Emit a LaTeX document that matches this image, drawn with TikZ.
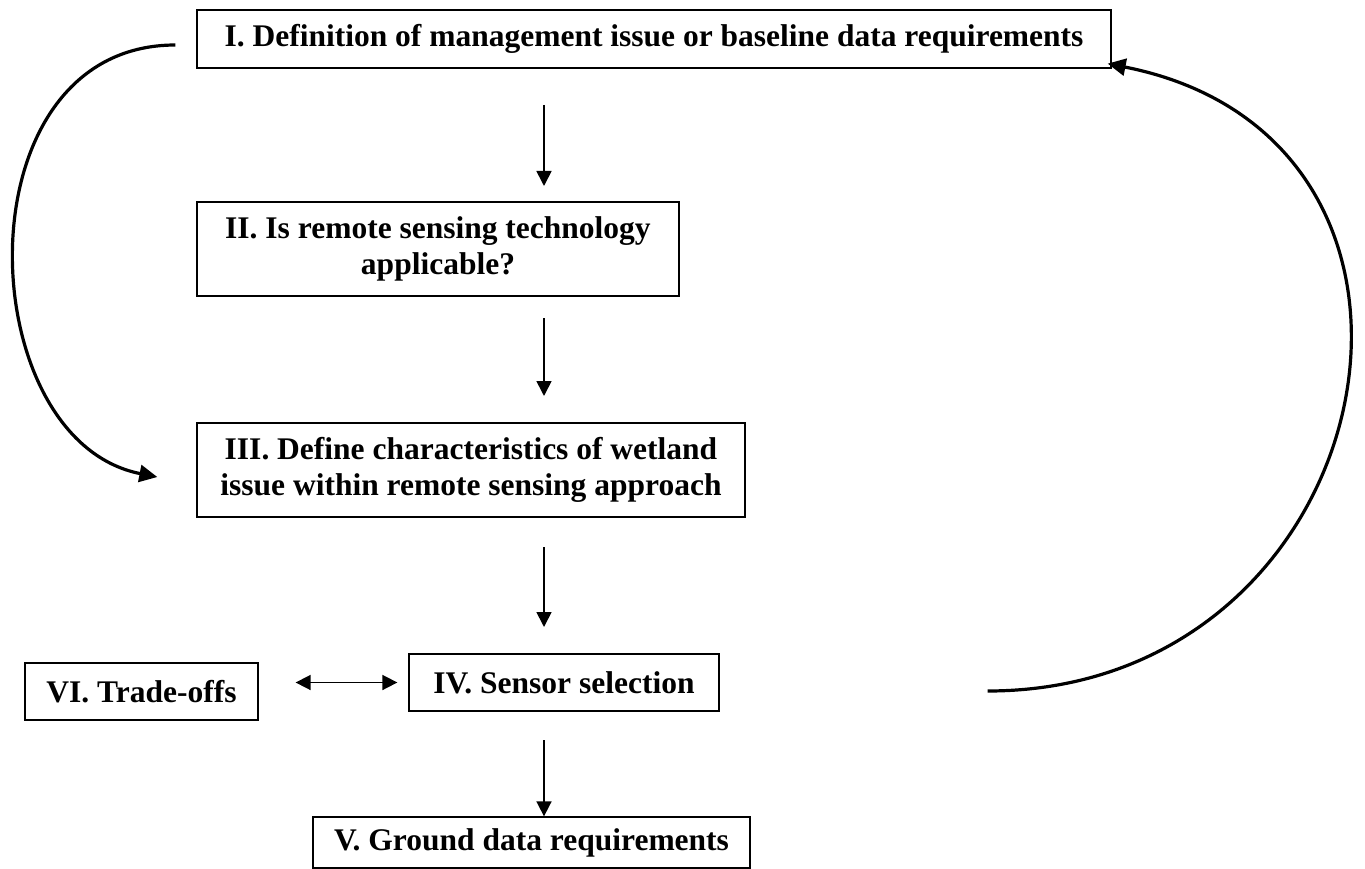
\documentclass[tikz,border=0pt]{standalone}
\usepackage{fontspec}
\setmainfont{Liberation Serif}
\usetikzlibrary{arrows.meta,calc}
\begin{document}
\begin{tikzpicture}[x=1pt,y=-1pt,
  box/.style={draw,line width=1.3pt,inner sep=0pt,align=center,
    font=\fontsize{31.5}{36}\selectfont\bfseries},
  flow/.style={line width=1.7pt,-{Triangle[length=15pt,width=15pt]}},
  twoway/.style={line width=1.7pt,{Triangle[length=15pt,width=15pt]}-{Triangle[length=15pt,width=15pt]}},
  loop/.style={line width=3.2pt,-{Triangle[length=18pt,width=17pt]}}]
\useasboundingbox (0,0) rectangle (1365,869);

\node[box,minimum width=914pt,minimum height=58pt] (n1) at (654,39)
  {I. Definition of management issue or baseline data requirements};
\node[box,minimum width=482pt,minimum height=94pt] (n2) at (438,249)
  {II. Is remote sensing technology\\applicable?};
\node[box,minimum width=548pt,minimum height=94pt] (n3) at (471,470)
  {III. Define characteristics of wetland\\issue within remote sensing approach};
\node[box,minimum width=310pt,minimum height=57pt] (n4) at (564,682.5)
  {IV. Sensor selection};
\node[box,minimum width=437pt,minimum height=51pt] (n5) at (531.5,842.5)
  {V. Ground data requirements};
\node[box,minimum width=233pt,minimum height=57pt] (n6) at (141.5,691.5)
  {VI. Trade-offs};

\coordinate (a1s) at (544,105);
\coordinate (a1e) at (544,186);
\coordinate (a2s) at (544,318);
\coordinate (a2e) at (544,396);
\coordinate (a3s) at (544,547);
\coordinate (a3e) at (544,627);
\coordinate (a4s) at (544,740);
\coordinate (d0) at ($(n6.east)+(37,0)$);
\coordinate (d1) at ($(n4.west)+(-11,0)$);

\draw[flow] (a1s) -- (a1e);
\draw[flow] (a2s) -- (a2e);
\draw[flow] (a3s) -- (a3e);
\draw[flow] (a4s) -- (a4s |- n5.north);
\draw[twoway] (d0 |- d1) -- (d1);

\draw[loop] ($(n1.west)+(-21,6)$) .. controls (-42,45) and (-30,440) .. ($(n3.west)+(-39,7)$);
\draw[loop] ($(n4.east)+(268,8.5)$) .. controls (1385,691) and (1495,140) .. ($(n1.south east)+(-4,-5)$);
\end{tikzpicture}
\end{document}
